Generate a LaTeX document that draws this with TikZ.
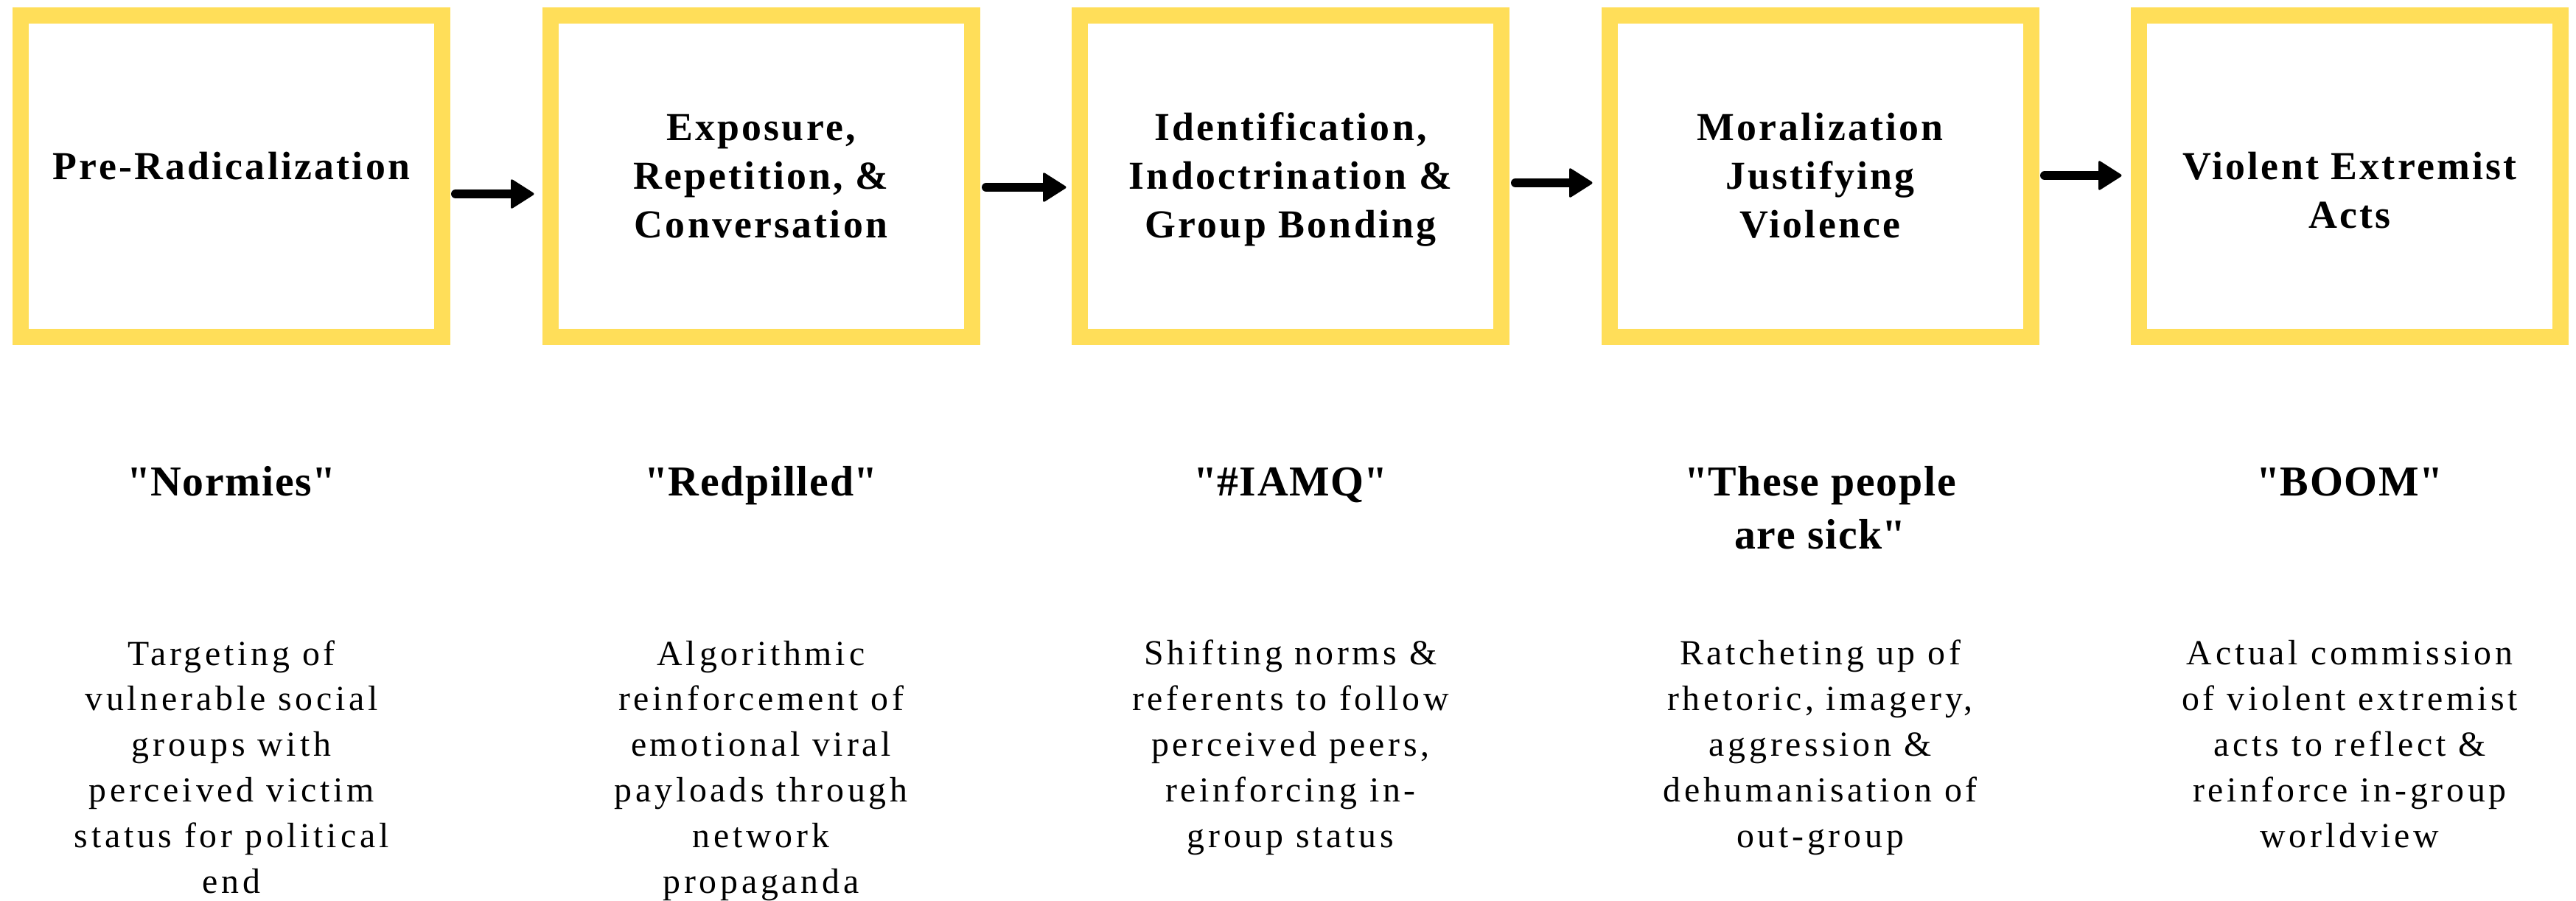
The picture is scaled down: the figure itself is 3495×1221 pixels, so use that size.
\documentclass[tikz,border=0pt]{standalone}
\usepackage{fontspec}
\setmainfont{Liberation Serif}
\newfontfamily\titlefont{Liberation Serif}[LetterSpace=6]
\newfontfamily\quotefont{Liberation Serif}[LetterSpace=3]
\newfontfamily\descfont{Liberation Serif}[LetterSpace=10]
\usetikzlibrary{calc}
\definecolor{boxyellow}{HTML}{FFDE59}
\begin{document}
\begin{tikzpicture}[x=1bp,y=-1bp,
  stage/.style={draw=boxyellow,line width=22bp,minimum width=572bp,minimum height=436bp,inner sep=0pt,outer sep=0pt},
  title/.style={font=\titlefont\bfseries\fontsize{54}{66}\selectfont,align=center,anchor=base,inner sep=0pt},
  quote/.style={font=\quotefont\bfseries\fontsize{58}{72}\selectfont,align=center,anchor=base,inner sep=0pt},
  desc/.style={font=\descfont\fontsize{48}{62}\selectfont,align=center,anchor=base,inner sep=0pt},
  shaft/.style={line width=12bp,line cap=round},
  head/.style={fill=black,rounded corners=3bp}]
\useasboundingbox[fill=white] (0,0) rectangle (3495,1221);

% stage boxes
\node[stage] (box1) at (314,239) {};
\node[stage] (box2) at (1032.5,239) {};
\node[stage] (box3) at (1751,239) {};
\node[stage] (box4) at (2469.5,239) {};
\node[stage] (box5) at (3188,239) {};

% titles (anchor = baseline of the last line)
\node[title] (t1) at (314,243) {Pre-Radicalization};
\node[title] (t2) at (1032.5,322) {Exposure,\\Repetition, \&\\Conversation};
\node[title] (t3) at (1751,322) {Identification,\\Indoctrination \&\\Group Bonding};
\node[title] (t4) at (2469.5,322) {Moralization\\Justifying\\Violence};
\node[title] (t5) at (3188,309) {Violent Extremist\\Acts};

% arrows
\coordinate (s1) at (618,263);  \coordinate (e1) at (726,263);
\coordinate (s2) at (1338,254); \coordinate (e2) at (1448,254);
\coordinate (s3) at (2056,248); \coordinate (e3) at (2162,248);
\coordinate (s4) at (2774,238); \coordinate (e4) at (2880,238);
\foreach \i in {1,2,3,4}{
  \draw[shaft] (s\i) -- ($(e\i)+(-28,0)$);
  \path[head] (e\i) -- ++(-33,-21) -- ++(0,42) -- cycle;
}

% quotes
\node[quote] (q1) at (314,672) {\textquotedbl Normies\textquotedbl};
\node[quote] (q2) at (1032.5,672) {\textquotedbl Redpilled\textquotedbl};
\node[quote] (q3) at (1751,672) {\textquotedbl\#IAMQ\textquotedbl};
\node[quote] (q4) at (2469.5,744) {\textquotedbl These people\\are sick\textquotedbl};
\node[quote] (q5) at (3188,672) {\textquotedbl BOOM\textquotedbl};

% descriptions
\node[desc] (d1) at (314,1211) {Targeting of\\vulnerable social\\groups with\\perceived victim\\status for political\\end};
\node[desc] (d2) at (1032.5,1211) {Algorithmic\\reinforcement of\\emotional viral\\payloads through\\network\\propaganda};
\node[desc] (d3) at (1751,1149) {Shifting norms \&\\referents to follow\\perceived peers,\\reinforcing in-\\group status};
\node[desc] (d4) at (2469.5,1149) {Ratcheting up of\\rhetoric, imagery,\\aggression \&\\dehumanisation of\\out-group};
\node[desc] (d5) at (3188,1149) {Actual commission\\of violent extremist\\acts to reflect \&\\reinforce in-group\\worldview};
\end{tikzpicture}
\end{document}
